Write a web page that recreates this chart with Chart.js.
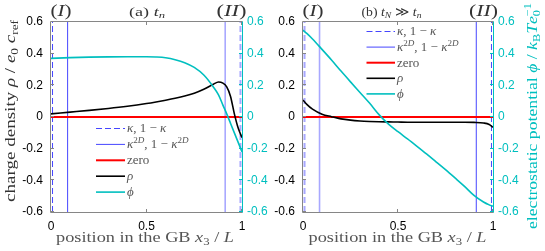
<!DOCTYPE html>
<html>
<head>
<meta charset="utf-8">
<script src="https://cdn.jsdelivr.net/npm/chart.js@4/dist/chart.umd.min.js"></script>
<style>
	body { margin: 0; background: #ffffff; }
	#wrap { position: relative; width: 545px; height: 251px; }
	canvas { position: absolute; left: 0; top: 0; }
</style>
</head>
<body>
<div id="wrap">
	<canvas id="chartA" width="545" height="251"></canvas>
	<canvas id="chartB" width="545" height="251"></canvas>
</div>
<script>
"use strict";

// axis ranges
var xRange = [0, 1];
var yRange = [-0.6, 0.6];

// interface positions (vertical lines)
var kappa = [0.008, 0.992];
var kappa2D = [0.087, 0.912];

// panel (a) t_n
var xA = [0, 0.1, 0.2, 0.3, 0.4, 0.5, 0.55, 0.6, 0.65, 0.7, 0.75, 0.8, 0.85, 0.877, 0.9, 0.92, 0.94, 0.96, 0.98, 1.0];
var rhoA = [0.02, 0.031, 0.042, 0.054, 0.068, 0.085, 0.095, 0.106, 0.118, 0.132, 0.15, 0.175, 0.207, 0.221, 0.214, 0.19, 0.13, 0.02, -0.07, -0.13];
var phiA = [0.37, 0.375, 0.378, 0.38, 0.381, 0.381, 0.379, 0.374, 0.362, 0.343, 0.313, 0.265, 0.19, 0.14, 0.075, 0.02, -0.04, -0.1, -0.16, -0.22];

// panel (b) t_N >> t_n
var xB = [0, 0.02, 0.05, 0.1, 0.15, 0.2, 0.25, 0.3, 0.35, 0.4, 0.45, 0.5, 0.55, 0.6, 0.65, 0.7, 0.75, 0.8, 0.85, 0.9, 0.95, 0.98, 1.0];
var rhoB = [0.108, 0.08, 0.05, 0.018, 0.002, -0.012, -0.02, -0.025, -0.028, -0.03, -0.031, -0.032, -0.033, -0.033, -0.033, -0.033, -0.033, -0.033, -0.033, -0.034, -0.038, -0.047, -0.065];
var phiB = [0.548, 0.528, 0.493, 0.427, 0.36, 0.29, 0.222, 0.155, 0.088, 0.015, -0.045, -0.093, -0.138, -0.185, -0.233, -0.283, -0.333, -0.385, -0.438, -0.495, -0.537, -0.555, -0.564];

// legend labels: [text, style] ; style r = roman, i = italic, ^ = superscript, _ = subscript
var legendLabels = [
	[["κ", "i"], [", 1 − ", "r"], ["κ", "i"]],
	[["κ", "i"], ["2", "^r"], ["D", "^i"], [", 1 − ", "r"], ["κ", "i"], ["2", "^r"], ["D", "^i"]],
	[["zero", "r"]],
	[["ρ", "i"]],
	[["ϕ", "i"]]
];

var blue = "#4646ff";
var lightBlue = "#a8a8ff";
var red = "#ff0000";
var teal = "#00bfbf";
var gray = "#868686";
var textGray = "#555555";

var legendStyles = [
	{ color: blue, width: 1, dash: [6, 3] },
	{ color: blue, width: 1, dash: [] },
	{ color: red, width: 2, dash: [] },
	{ color: "#000000", width: 1.6, dash: [] },
	{ color: teal, width: 1.6, dash: [] }
];

var serif = '"Liberation Serif", "Times New Roman", serif';
var sans = '"Liberation Sans", Arial, sans-serif';


function fontFor(st, size) {
	var small = st[0] === "_" || st[0] === "^";
	var s = small ? size * 0.7 : size;
	var it = st[st.length - 1] === "i";
	return (it ? "italic " : "") + s.toFixed(2) + "px " + serif;
}

function layoutRich(ctx, parts, size) {
	var x = 0, start = 0, items = [];
	parts.forEach(function (p) {
		ctx.font = fontFor(p[1], size);
		var w = ctx.measureText(p[0]).width;
		var px = p[2] ? start : x;
		if (!p[2]) start = x;
		var dy = 0;
		if (p[1][0] === "_") dy = size * 0.22;
		if (p[1][0] === "^") dy = -size * 0.4;
		items.push({ t: p[0], font: fontFor(p[1], size), x: px, dy: dy });
		x = Math.max(x, px + w);
	});
	return { items: items, width: x };
}

// draws rich text, (cx, cy) = anchor on the baseline
function drawRich(ctx, parts, size, cx, cy, opts) {
	ctx.save();
	ctx.translate(cx, cy);
	if (opts.rotate) ctx.rotate(opts.rotate);
	var lay = layoutRich(ctx, parts, size);
	var sx = opts.width ? opts.width / lay.width : (opts.stretch || 1);
	ctx.scale(sx, 1);
	var x0 = opts.align === "left" ? 0 : -lay.width / 2;
	ctx.fillStyle = opts.color || "#000000";
	ctx.textBaseline = "alphabetic";
	ctx.textAlign = "left";
	lay.items.forEach(function (it) {
		ctx.font = it.font;
		ctx.fillText(it.t, x0 + it.x, it.dy);
	});
	ctx.restore();
}

function strokeLine(ctx, x1, y1, x2, y2) {
	ctx.beginPath();
	ctx.moveTo(x1, y1);
	ctx.lineTo(x2, y2);
	ctx.stroke();
}

var extrasPlugin = {
	id: "extras",
	afterDraw: function (chart) {
		var o = chart.options.plugins.extras;
		var ctx = chart.ctx;
		var a = chart.chartArea;
		var sx = chart.scales.x;
		var sy = chart.scales.y;

		ctx.save();
		ctx.lineWidth = 1;
		ctx.setLineDash([]);

		// inward tick marks
		ctx.strokeStyle = gray;
		sx.ticks.forEach(function (t) {
			var px = Math.round(sx.getPixelForValue(t.value)) - 0.5;
			strokeLine(ctx, px, a.bottom, px, a.bottom - 3);
			strokeLine(ctx, px, a.top, px, a.top + 3);
		});
		sy.ticks.forEach(function (t) {
			var py = Math.round(sy.getPixelForValue(t.value)) - 0.5;
			strokeLine(ctx, a.left, py, a.left + 3, py);
		});
		ctx.strokeStyle = teal;
		sy.ticks.forEach(function (t) {
			var py = Math.round(sy.getPixelForValue(t.value)) - 0.5;
			strokeLine(ctx, a.right, py, a.right - 3, py);
		});

		// axes box
		ctx.strokeStyle = gray;
		strokeLine(ctx, a.left - 0.5, a.top - 0.5, a.right + 0.5, a.top - 0.5);
		strokeLine(ctx, a.left - 0.5, a.bottom + 0.5, a.right + 0.5, a.bottom + 0.5);
		strokeLine(ctx, a.left - 0.5, a.top - 0.5, a.left - 0.5, a.bottom + 0.5);
		ctx.strokeStyle = teal;
		strokeLine(ctx, a.right + 0.5, a.top - 0.5, a.right + 0.5, a.bottom + 0.5);

		// legend
		var lg = o.legend;
		legendLabels.forEach(function (lab, i) {
			var st = legendStyles[i];
			var y = lg.y + i * lg.dy;
			ctx.strokeStyle = st.color;
			ctx.lineWidth = st.width;
			ctx.setLineDash(st.dash);
			strokeLine(ctx, lg.x0, y, lg.x1, y);
			ctx.setLineDash([]);
			drawRich(ctx, lab, 12.5, lg.tx, y + 3.8, { align: "left", stretch: 1.04, color: textGray });
		});

		// titles above the axes
		o.titles.forEach(function (t) {
			drawRich(ctx, t.parts, t.size, t.x, t.y, { width: t.w, color: "#333333" });
		});

		// x axis label
		drawRich(ctx, o.xlabel.parts, 14.5, o.xlabel.x, o.xlabel.y, { width: o.xlabel.w, color: textGray });

		// y axis label
		if (o.ylabel) {
			drawRich(ctx, o.ylabel.parts, 14.5, o.ylabel.x, o.ylabel.y, { width: o.ylabel.w, rotate: -Math.PI / 2, color: o.ylabel.color });
		}
		ctx.restore();
	}
};

function vline(xv, color, width, dash) {
	return {
		data: [{ x: xv, y: yRange[0] }, { x: xv, y: yRange[1] }],
		borderColor: color,
		borderWidth: width,
		borderDash: dash,
		order: 5
	};
}

function series(xs, ys, color, width, order) {
	return {
		data: xs.map(function (x, i) { return { x: x, y: ys[i] }; }),
		borderColor: color,
		borderWidth: width,
		cubicInterpolationMode: "monotone",
		order: order,
		yAxisID: "y"
	};
}

function tickFmt(v) {
	return String(Math.round(v * 10) / 10);
}

function makeChart(canvasId, xs, rho, phi, vstyles, box, extras) {
	var ctx = document.getElementById(canvasId).getContext("2d");

	var datasets = [
		vline(kappa[0], vstyles[0].c, vstyles[0].w, [6, 3]),
		vline(kappa[1], vstyles[3].c, vstyles[3].w, [6, 3]),
		vline(kappa2D[0], vstyles[1].c, vstyles[1].w, []),
		vline(kappa2D[1], vstyles[2].c, vstyles[2].w, []),
		{
			data: [{ x: xRange[0], y: 0 }, { x: xRange[1], y: 0 }],
			borderColor: red,
			borderWidth: 2,
			order: 3
		},
		series(xs, rho, "#000000", 1.6, 2),
		series(xs, phi, teal, 1.6, 1)
	];

	var config = {
		type: "scatter",
		data: { datasets: datasets },
		options: {
			responsive: false,
			animation: false,
			devicePixelRatio: 1,
			showLine: true,
			elements: { point: { radius: 0 }, line: { tension: 0 } },
			layout: { padding: box.padding },
			plugins: {
				legend: { display: false },
				tooltip: { enabled: false },
				extras: extras
			},
			scales: {
				x: {
					type: "linear",
					min: xRange[0],
					max: xRange[1],
					grid: { display: false, drawTicks: false },
					border: { display: false },
					ticks: { stepSize: 0.5, autoSkip: false, maxRotation: 0, padding: 7, color: "#000000", font: { family: sans, size: 12 }, callback: tickFmt },
					afterFit: function (s) { s.height = 39; }
				},
				y: {
					position: "left",
					min: yRange[0],
					max: yRange[1],
					grid: { display: false, drawTicks: false },
					border: { display: false },
					ticks: { stepSize: 0.2, autoSkip: false, padding: box.yPad, color: "#000000", font: { family: sans, size: 12 }, callback: tickFmt },
					afterFit: function (s) { s.width = box.yW; }
				},
				y1: {
					position: "right",
					min: yRange[0],
					max: yRange[1],
					grid: { display: false, drawTicks: false },
					border: { display: false },
					ticks: { stepSize: 0.2, autoSkip: false, padding: box.y1Pad, color: teal, font: { family: sans, size: 12 }, callback: tickFmt },
					afterFit: function (s) { s.width = box.y1W; }
				}
			}
		},
		plugins: [extrasPlugin]
	};

	return new Chart(ctx, config);
}

var xlabelParts = [["position in the GB ", "r"], ["x", "i"], ["3", "_r"], [" / ", "r"], ["L", "i"]];

var chartA = makeChart("chartA", xA, rhoA, phiA,
	[{ c: blue, w: 1 }, { c: blue, w: 1 }, { c: lightBlue, w: 1.6 }, { c: lightBlue, w: 2 }],
	{ padding: { left: 0, right: 273, top: 22, bottom: 0 }, yW: 51, yPad: 8, y1W: 30, y1Pad: 5 },
	{
		legend: { x0: 96, x1: 125, tx: 127, y: 128.5, dy: 15.9 },
		titles: [
			{ parts: [["(", "r"], ["I", "i"], [")", "r"]], size: 16.5, x: 61, y: 15.5, w: 21 },
			{ parts: [["(a) ", "r"], ["t", "i"], ["n", "_i"]], size: 13, x: 147, y: 15.5, w: 36 },
			{ parts: [["(", "r"], ["II", "i"], [")", "r"]], size: 16.5, x: 231.5, y: 15.5, w: 30 }
		],
		xlabel: { parts: xlabelParts, x: 145, y: 241.5, w: 178 },
		ylabel: {
			parts: [["charge density ", "r"], ["ρ", "i"], [" / ", "r"], ["e", "i"], ["0", "_r"], [" ", "r"], ["c", "i"], ["ref", "_r"]],
			x: 15, y: 111, w: 182, color: "#333333"
		}
	});

var chartB = makeChart("chartB", xB, rhoB, phiB,
	[{ c: lightBlue, w: 2 }, { c: lightBlue, w: 1.6 }, { c: blue, w: 1 }, { c: blue, w: 1 }],
	{ padding: { left: 273, right: 0, top: 22, bottom: 0 }, yW: 30, yPad: 8, y1W: 52, y1Pad: 5 },
	{
		legend: { x0: 366.5, x1: 395, tx: 397, y: 31.5, dy: 15.6 },
		titles: [
			{ parts: [["(", "r"], ["I", "i"], [")", "r"]], size: 16.5, x: 313, y: 15.5, w: 21 },
			{ parts: [["(b) ", "r"], ["t", "i"], ["N", "_i"], [" ≫ ", "r"], ["t", "i"], ["n", "_i"]], size: 13, x: 391.5, y: 15.5, w: 60 },
			{ parts: [["(", "r"], ["II", "i"], [")", "r"]], size: 16.5, x: 483.5, y: 15.5, w: 29 }
		],
		xlabel: { parts: xlabelParts, x: 397.5, y: 241.5, w: 178 },
		ylabel: {
			parts: [["electrostatic potential ", "r"], ["ϕ", "i"], [" / ", "r"], ["k", "i"], ["B", "_r"], ["T", "i"], ["e", "i"], ["0", "_r"], ["−1", "^r", true]],
			x: 537, y: 116, w: 226, color: teal
		}
	});
</script>
</body>
</html>
